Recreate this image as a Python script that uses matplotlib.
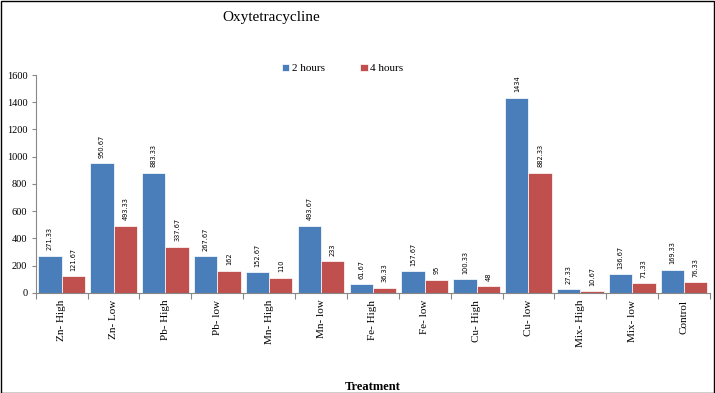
import numpy as np
import matplotlib
matplotlib.use("Agg")
import matplotlib.pyplot as plt

plt.rcParams['font.family'] = ['Liberation Serif', 'DejaVu Serif']

treatments = ['Zn- High', 'Zn- Low', 'Pb- High', 'Pb- low', 'Mn- High', 'Mn- low',
              'Fe- High', 'Fe- low', 'Cu- High', 'Cu- low', 'Mix- High', 'Mix- low', 'Control']
hours2 = [271.33, 950.67, 883.33, 267.67, 152.67, 493.67, 61.67, 157.67, 100.33, 1434, 27.33, 136.67, 169.33]
hours4 = [121.67, 493.33, 337.67, 162, 110, 233, 36.33, 95, 48, 882.33, 10.67, 71.33, 76.33]
labels2 = ['271.33', '950.67', '883.33', '267.67', '152.67', '493.67', '61.67', '157.67', '100.33', '1434', '27.33', '136.67', '169.33']
labels4 = ['121.67', '493.33', '337.67', '162', '110', '233', '36.33', '95', '48', '882.33', '10.67', '71.33', '76.33']

blue = '#4a7ebb'
red = '#c0504d'

fig = plt.figure(figsize=(7.15, 3.93), dpi=100)
ax = fig.add_axes([0.05, 0.255, 0.943, 0.554])

x = np.arange(len(treatments))
w = 0.45
b1 = ax.bar(x - w/2, hours2, w, color=blue, edgecolor='white', linewidth=0.5, label='2 hours')
b2 = ax.bar(x + w/2, hours4, w, color=red, edgecolor='white', linewidth=0.5, label='4 hours')

for rects, labs in [(b1, labels2), (b2, labels4)]:
    for r, lab in zip(rects, labs):
        ax.text(r.get_x() + r.get_width()/2, r.get_height() + 40, lab,
                rotation=90, ha='center', va='bottom', fontsize=4.8, family='DejaVu Sans')

ax.set_xlim(-0.5, len(treatments) - 0.5)
ax.set_ylim(0, 1600)
ax.set_yticks(np.arange(0, 1601, 200))
ax.set_xticks(np.arange(-0.5, len(treatments), 1), minor=False)
ax.set_xticklabels([])
ax.set_xticks(x, minor=True)
ax.set_xticklabels(treatments, minor=True, rotation=90, fontsize=8)
ax.tick_params(axis='x', which='minor', length=0, pad=5)
ax.tick_params(axis='x', which='major', length=4, color='#888888', direction='out')
ax.tick_params(axis='y', labelsize=7.5, length=3, color='#888888', pad=3)
for s in ['top', 'right']:
    ax.spines[s].set_visible(False)
for s in ['left', 'bottom']:
    ax.spines[s].set_color('#888888')
    ax.spines[s].set_linewidth(0.8)

ax.set_xlabel('Treatment', fontsize=9, fontweight='bold', labelpad=24)
fig.text(0.38, 0.955, 'Oxytetracycline', fontsize=11, ha='center', va='center')
ax.legend(loc='center', bbox_to_anchor=(0.455, 1.03), ncol=2, frameon=False,
          fontsize=8, handlelength=0.7, handleheight=0.7, handletextpad=0.2, columnspacing=3.2)

fig.patches.append(plt.Rectangle((0.001, 0.001), 0.997, 0.997, transform=fig.transFigure,
                                 fill=False, edgecolor='black', linewidth=1))
fig.savefig('out.png', dpi=100)
